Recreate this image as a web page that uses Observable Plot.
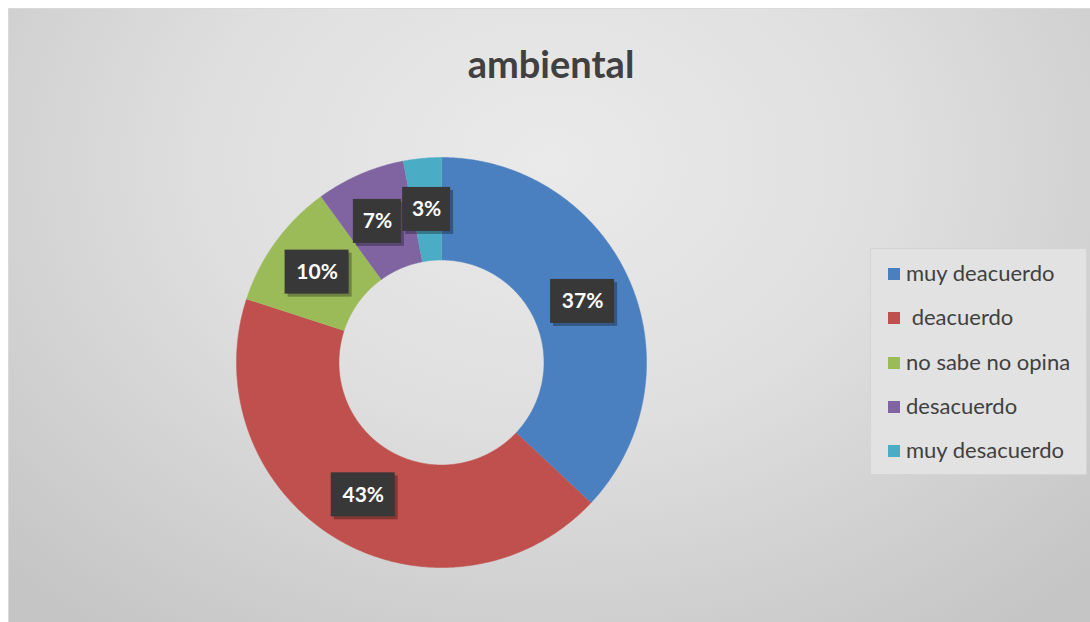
<!DOCTYPE html>
<html><head><meta charset="utf-8">
<script src="https://cdn.jsdelivr.net/npm/d3@7"></script>
<script src="https://cdn.jsdelivr.net/npm/@observablehq/plot@0.6"></script>
<style>
body{margin:0;background:#fff;}
#wrap{position:relative;width:1090px;height:622px;overflow:hidden;background:#fff;}
#frame{position:absolute;left:8px;top:8px;width:1082px;height:614px;background:radial-gradient(ellipse 70% 95% at 50% 25%, #eaeaea 0%, #dfdfdf 45%, #c5c5c5 100%);border-left:1px solid #d9d9d9;border-top:1px solid #d9d9d9;box-sizing:border-box;}
#title{position:absolute;left:10px;width:1082px;top:44px;text-align:center;font:bold 38px Lato, sans-serif;color:#404040;line-height:1;}
#legend{position:absolute;left:870px;top:248px;width:217px;height:227px;background:#e2e2e2;border:1px solid #d4d4d4;box-sizing:border-box;}
.item{position:absolute;left:35px;font:22px Lato, sans-serif;color:#404040;white-space:pre;line-height:1;transform:translateY(-55%);}
.sw{position:absolute;left:17px;width:12px;height:12px;transform:translateY(-50%);}
#chart{position:absolute;left:0;top:0;}
</style></head><body>
<div id="wrap"><div id="frame"></div><div id="title">ambiental</div><div id="chart"></div><div id="legend"></div></div>
<script>
const categories = ["muy deacuerdo", " deacuerdo", "no sabe no opina", "desacuerdo", "muy desacuerdo"];
const values = [37, 43, 10, 7, 3];
const labels = ["37%", "43%", "10%", "7%", "3%"];
const colors = ["#4a7fc0", "#c0504d", "#9bbb59", "#8064a2", "#4bacc6"];

const W = 1090, H = 622, cx = 441, cy = 362, R = 205, hole = 0.5;
const pie = d3.pie().sort(null).value(d => d)(values);

const pts = [];
pie.forEach((p, i) => {
  const span = p.endAngle - p.startAngle;
  const n = Math.max(4, Math.ceil(span / 0.01));
  for (let k = 0; k <= n; k++) { const a = p.startAngle + span * k / n; pts.push({cat: categories[i], x: Math.sin(a), y: Math.cos(a)}); }
  for (let k = n; k >= 0; k--) { const a = p.startAngle + span * k / n; pts.push({cat: categories[i], x: hole * Math.sin(a), y: hole * Math.cos(a)}); }
});

const mid = (1 + hole) / 2, bh = 44 / R;
const lab = pie.map((p, i) => {
  const a = (p.startAngle + p.endAngle) / 2;
  return {label: labels[i], x: mid * Math.sin(a), y: mid * Math.cos(a), w: (16 * labels[i].length + 16) / R};
});
// simple collision avoidance: push earlier label left if overlapping the next
for (let i = lab.length - 2; i >= 0; i--) {
  const a = lab[i], b = lab[i + 1];
  const ov = (a.x + a.w / 2) - (b.x - b.w / 2);
  const vy = Math.abs(a.y - b.y) < bh;
  if (ov > 0 && vy && a.x < b.x) { a.x -= ov * 0.75 + 2 / R; b.x -= ov * 0.3; }
}

const chart = Plot.plot({
  width: W, height: H, margin: 0,
  style: {background: "transparent"},
  x: {domain: [-1, 1], range: [cx - R, cx + R], axis: null},
  y: {domain: [-1, 1], range: [cy + R, cy - R], axis: null},
  color: {domain: categories, range: colors},
  marks: [
    Plot.line(pts, {x: "x", y: "y", z: "cat", fill: "cat", stroke: "cat", strokeWidth: 0.5}),
    Plot.rect(lab, {x1: d => d.x - d.w / 2, x2: d => d.x + d.w / 2, y1: d => d.y - bh / 2, y2: d => d.y + bh / 2, fill: "#000", fillOpacity: 0.3, dx: 3, dy: 3}),
    Plot.rect(lab, {x1: d => d.x - d.w / 2, x2: d => d.x + d.w / 2, y1: d => d.y - bh / 2, y2: d => d.y + bh / 2, fill: "#383838"}),
    Plot.text(lab, {x: "x", y: "y", text: "label", fill: "white", fontSize: 21, fontWeight: "bold", fontFamily: "Lato, sans-serif"})
  ]
});
document.getElementById("chart").appendChild(chart);

const lg = document.getElementById("legend");
categories.forEach((c, i) => {
  const y = 25 + i * 44.3;
  const sw = document.createElement("div");
  sw.className = "sw"; sw.style.top = y + "px"; sw.style.background = colors[i];
  const t = document.createElement("div");
  t.className = "item"; t.style.top = y + "px"; t.textContent = c;
  lg.appendChild(sw); lg.appendChild(t);
});
</script>
</body></html>
